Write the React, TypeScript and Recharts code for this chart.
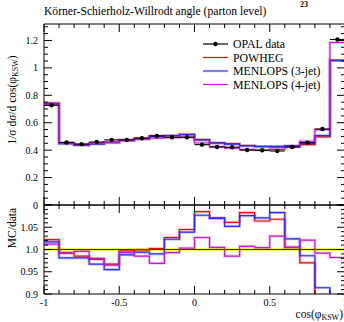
import React from 'react';
import { ComposedChart, Line, Scatter, XAxis, YAxis, ErrorBar, ReferenceLine, ReferenceArea } from 'recharts';

// bin edges of cos(phi_KSW)
const binEdges = [-1, -0.9, -0.8, -0.7, -0.6, -0.5, -0.4, -0.3, -0.2, -0.1, 0, 0.1, 0.2, 0.3, 0.4, 0.5, 0.6, 0.7, 0.8, 0.9, 1];

const opalData = [0.727, 0.456, 0.444, 0.459, 0.475, 0.475, 0.487, 0.504, 0.494, 0.494, 0.44, 0.423, 0.421, 0.401, 0.399, 0.394, 0.423, 0.455, 0.554, 1.207];
const opalErr = [0.008, 0.006, 0.006, 0.006, 0.006, 0.006, 0.006, 0.006, 0.006, 0.006, 0.006, 0.006, 0.006, 0.006, 0.006, 0.006, 0.006, 0.006, 0.007, 0.01];

const powheg = [0.743, 0.452, 0.437, 0.449, 0.459, 0.474, 0.487, 0.505, 0.507, 0.516, 0.477, 0.453, 0.447, 0.434, 0.425, 0.421, 0.425, 0.441, 0.497, 1.056];
const menlops3 = [0.739, 0.447, 0.436, 0.444, 0.454, 0.469, 0.484, 0.499, 0.505, 0.513, 0.474, 0.453, 0.443, 0.431, 0.427, 0.427, 0.433, 0.449, 0.506, 1.053];
const menlops4 = [0.736, 0.453, 0.442, 0.45, 0.458, 0.472, 0.48, 0.488, 0.491, 0.495, 0.452, 0.425, 0.415, 0.404, 0.401, 0.406, 0.425, 0.465, 0.55, 1.185];

const ratioPowheg = [1.022, 0.992, 0.985, 0.978, 0.967, 0.997, 0.999, 1.002, 1.027, 1.045, 1.085, 1.071, 1.061, 1.083, 1.064, 1.068, 1.005, 0.97, 0.897, 0.875];
const ratio3 = [1.017, 0.981, 0.981, 0.967, 0.955, 0.988, 0.994, 0.99, 1.023, 1.039, 1.077, 1.07, 1.052, 1.076, 1.071, 1.083, 1.024, 0.986, 0.914, 0.872];
const ratio4 = [1.012, 0.993, 0.996, 0.98, 0.965, 0.993, 0.985, 0.969, 0.993, 1.003, 1.027, 1.005, 0.985, 1.007, 1.004, 1.03, 1.005, 1.021, 0.992, 0.982];

const xMajor = [-1, -0.5, 0, 0.5, 1];
const xLabels = ['-1', '-0.5', '0', '0.5', '1'];
const yMajorTop = [0, 0.2, 0.4, 0.6, 0.8, 1, 1.2];
const yLabelsTop = ['0', '0.2', '0.4', '0.6', '0.8', '1', '1.2'];
const yMajorRatio = [0.9, 0.95, 1.0, 1.05, 1.1];
const yLabelsRatio = ['0.9', '0.95', '1.0', '1.05', ''];

const steps = (lo: number, hi: number, d: number) => {
  const out: number[] = [];
  for (let v = lo; v <= hi + 1e-9; v += d) out.push(Number(v.toFixed(3)));
  return out;
};
const xTicks = steps(-1, 1, 0.1);
const yTicksTop = steps(0, 1.3, 0.05);
const yTicksRatio = steps(0.9, 1.1, 0.01);

const mainRows = binEdges.map((x, i) => {
  const k = Math.min(i, opalData.length - 1);
  return { x, powheg: powheg[k], m3: menlops3[k], m4: menlops4[k] };
});
const ratioRows = binEdges.map((x, i) => {
  const k = Math.min(i, opalData.length - 1);
  return { x, powheg: ratioPowheg[k], m3: ratio3[k], m4: ratio4[k] };
});
const opalPoints = opalData.map((y, i) => ({
  x: Number(((binEdges[i] + binEdges[i + 1]) / 2).toFixed(3)),
  y,
  xerr: 0.05,
  yerr: opalErr[i],
}));

const RED = '#e01010';
const BLUE = '#2a2ae8';
const MAG = '#c01ccc';
const FONT = '"Liberation Serif", "DejaVu Serif", serif';

const isIn = (arr: number[], v: number) => arr.findIndex((m) => Math.abs(m - v) < 1e-6);

// inward-pointing tick marks, labels only on majors
const makeTick = (side: 'top' | 'bottom' | 'left' | 'right', majors: number[], labels?: string[]) =>
  (props: any) => {
    const x = Number(props.x);
    const y = Number(props.y);
    const idx = isIn(majors, props.payload.value);
    const len = idx >= 0 ? 8 : 4;
    let d = '';
    if (side === 'bottom') d = `M${x},${y}V${y - len}`;
    else if (side === 'top') d = `M${x},${y}V${y + len}`;
    else if (side === 'left') d = `M${x},${y}H${x + len}`;
    else d = `M${x},${y}H${x - len}`;
    let label = null;
    if (labels && idx >= 0 && labels[idx]) {
      if (side === 'bottom')
        label = (
          <text x={x} y={y + 12} textAnchor="middle" fontSize={10} fontFamily={FONT} fill="#000" stroke="none">
            {labels[idx]}
          </text>
        );
      if (side === 'left')
        label = (
          <text x={x - 6} y={y + 3.5} textAnchor="end" fontSize={10} fontFamily={FONT} fill="#000" stroke="none">
            {labels[idx]}
          </text>
        );
    }
    return (
      <g>
        <path d={d} stroke="#000" strokeWidth={1} fill="none" />
        {label}
      </g>
    );
  };

const frameAxes = (
  yDomain: [number, number],
  yTicks: number[],
  yMajors: number[],
  yLabels: string[],
  showXLabels: boolean
) => [
  <XAxis key="xb" xAxisId="b" dataKey="x" type="number" domain={[-1, 1]} ticks={xTicks} interval={0} allowDataOverflow
    height={1} tickSize={0} tickMargin={0} axisLine={false} tickLine={false}
    tick={makeTick('bottom', xMajor, showXLabels ? xLabels : undefined)} />,
  <XAxis key="xt" xAxisId="t" orientation="top" dataKey="x" type="number" domain={[-1, 1]} ticks={xTicks} interval={0}
    allowDataOverflow height={1} tickSize={0} tickMargin={0} axisLine={false} tickLine={false}
    tick={makeTick('top', xMajor)} />,
  <YAxis key="yl" yAxisId="l" type="number" domain={yDomain} ticks={yTicks} interval={0} allowDataOverflow width={44}
    tickSize={0} tickMargin={0} axisLine={false} tickLine={false} tick={makeTick('left', yMajors, yLabels)} />,
  <YAxis key="yr" yAxisId="r" orientation="right" type="number" domain={yDomain} ticks={yTicks} interval={0}
    allowDataOverflow width={1} tickSize={0} tickMargin={0} axisLine={false} tickLine={false}
    tick={makeTick('right', yMajors)} />,
];

const histLines = [
  { key: 'powheg', color: RED },
  { key: 'm3', color: BLUE },
  { key: 'm4', color: MAG },
];

const histogram = () =>
  histLines.flatMap((s) => [
    <Line key={s.key + '-band'} xAxisId="b" yAxisId="l" type="stepAfter" dataKey={s.key} stroke={s.color}
      strokeOpacity={0.25} strokeWidth={3} dot={false} activeDot={false} isAnimationActive={false} />,
    <Line key={s.key} xAxisId="b" yAxisId="l" type="stepAfter" dataKey={s.key} stroke={s.color}
      strokeWidth={1.2} dot={false} isAnimationActive={false} />,
  ]);

const dot = (p: any) => <circle cx={p.cx} cy={p.cy} r={2.2} fill="#000" />;

export default function App() {
  return (
    <div style={{ position: 'absolute', left: 0, top: 0, width: 344, height: 322, overflow: 'hidden', background: '#fff' }}>
      <div style={{ position: 'absolute', left: 0, top: 0 }}>
        <ComposedChart width={360} height={215} data={mainRows} margin={{ top: 23, right: 14, bottom: 9, left: 0 }}>
          {frameAxes([0, 1.32], yTicksTop, yMajorTop, yLabelsTop, false)}
          <ReferenceArea xAxisId="b" yAxisId="l" x1={-1} x2={1} y1={0} y2={1.32} fill="none" stroke="#000" strokeWidth={1} ifOverflow="visible" />
          {histogram()}
          <Scatter xAxisId="b" yAxisId="l" data={opalPoints} dataKey="y" shape={dot} isAnimationActive={false}>
            <ErrorBar dataKey="xerr" direction="x" width={0} stroke="#000" strokeWidth={1.1} />
            <ErrorBar dataKey="yerr" direction="y" width={0} stroke="#000" strokeWidth={1.1} />
          </Scatter>
        </ComposedChart>
      </div>
      <div style={{ position: 'absolute', left: 0, top: 203 }}>
        <ComposedChart width={360} height={119} data={ratioRows} margin={{ top: 1, right: 14, bottom: 27, left: 0 }}>
          {frameAxes([0.9, 1.1], yTicksRatio, yMajorRatio, yLabelsRatio, true)}
          <ReferenceArea xAxisId="b" yAxisId="l" x1={-1} x2={1} y1={0.997} y2={1.003} fill="#f0f000" fillOpacity={0.9} stroke="none" />
          <ReferenceLine xAxisId="b" yAxisId="l" y={1} stroke="#333" strokeWidth={1} />
          <ReferenceArea xAxisId="b" yAxisId="l" x1={-1} x2={1} y1={0.9} y2={1.1} fill="none" stroke="#000" strokeWidth={1} ifOverflow="visible" />
          {histogram()}
        </ComposedChart>
      </div>
      <svg width={344} height={322} style={{ position: 'absolute', left: 0, top: 0, pointerEvents: 'none' }} fontFamily={FONT}>
        <text x={44} y={15} fontSize={11.6} fill="#000">Körner-Schierholz-Willrodt angle (parton level)</text>
        <text x={304} y={7} fontSize={8} fontWeight="bold" textAnchor="middle" fill="#000">23</text>
        <g fontSize={11.8} fill="#000">
          <line x1={203} x2={228} y1={44} y2={44} stroke="#000" strokeWidth={1.2} />
          <circle cx={215.5} cy={44} r={2.2} fill="#000" />
          <text x={233} y={48}>OPAL data</text>
          <line x1={203} x2={228} y1={57.5} y2={57.5} stroke={RED} strokeWidth={1.2} />
          <text x={233} y={61.5}>POWHEG</text>
          <line x1={203} x2={228} y1={71} y2={71} stroke={BLUE} strokeOpacity={0.6} strokeWidth={2.2} />
          <text x={233} y={75}>MENLOPS (3-jet)</text>
          <line x1={203} x2={228} y1={84.5} y2={84.5} stroke={MAG} strokeWidth={1.2} />
          <text x={233} y={88.5}>MENLOPS (4-jet)</text>
        </g>
        <text transform="translate(16,100) rotate(-90)" textAnchor="middle" fontSize={11.5} fill="#000">
          1/σ dσ/d cos(φ<tspan dy={2} fontSize={8}>KSW</tspan><tspan dy={-2}>)</tspan>
        </text>
        <text transform="translate(16,228) rotate(-90)" textAnchor="middle" fontSize={11.5} fill="#000">MC/data</text>
        <text x={343} y={318} textAnchor="end" fontSize={11.5} fill="#000">
          cos(φ<tspan dy={2} fontSize={8}>KSW</tspan><tspan dy={-2}>)</tspan>
        </text>
      </svg>
    </div>
  );
}
